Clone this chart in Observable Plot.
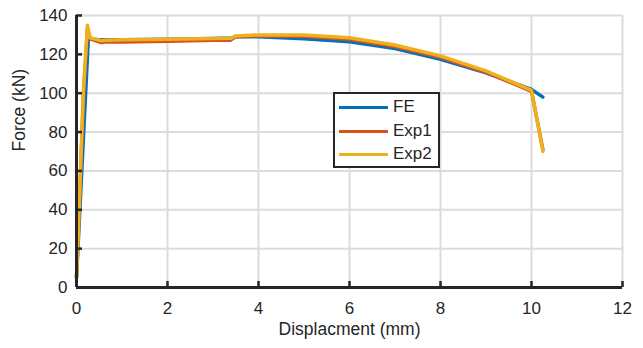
<!DOCTYPE html>
<html>
<head>
<meta charset="utf-8">
<script src="https://cdn.jsdelivr.net/npm/d3@7"></script>
<script src="https://cdn.jsdelivr.net/npm/@observablehq/plot@0.6"></script>
<style>
  body { margin: 0; background: #fff; }
  #wrap { position: relative; width: 643px; height: 348px; font-family: "Liberation Sans", Arial, sans-serif; }
  #legend { position: absolute; left: 333px; top: 92px; width: 103px; height: 72px; border: 2.5px solid #262626; background: #fff; }
  .item { position: absolute; left: 0; height: 20px; display: flex; align-items: center; font-size: 17px; color: #262626; }
  .item span.sw { display: inline-block; width: 49px; height: 3px; margin-left: 4px; margin-right: 5px; }
</style>
</head>
<body>
<div id="wrap"><div id="chart"></div><div id="legend"></div></div>
<script>
const seriesNames = ["FE", "Exp1", "Exp2"];
const seriesColors = ["#0072BD", "#D95319", "#EDB120"];

const feDisp  = [0, 0.26, 0.5, 1, 2, 3, 3.4, 3.5, 4, 5, 6, 7, 8, 9, 10, 10.25];
const feForce = [5, 128, 127.5, 127.5, 127.8, 128.2, 128.4, 129, 129, 128, 126.5, 123, 117.5, 110.5, 102, 98];

const exp1Disp  = [0, 0.04, 0.15, 0.24, 0.3, 0.55, 0.6, 1, 2, 3, 3.38, 3.5, 4, 5, 6, 7, 8, 9, 10, 10.25];
const exp1Force = [5, 28, 98, 133, 128, 126, 126.3, 126.3, 126.8, 127.2, 127.2, 129, 129.5, 129.3, 127.8, 124, 118.5, 110.8, 101, 71];

const exp2Disp  = [0, 0.04, 0.15, 0.24, 0.3, 0.55, 0.62, 1, 2, 3, 3.4, 3.5, 4, 5, 6, 7, 8, 9, 10, 10.25];
const exp2Force = [5, 29, 100, 135, 128.5, 127, 127.3, 127.5, 127.8, 128.2, 128.3, 129.5, 130, 130, 128.5, 124.8, 119.2, 111.5, 101.5, 70];

const xTicks = [0, 2, 4, 6, 8, 10, 12];
const yTicks = [0, 20, 40, 60, 80, 100, 120, 140];
const xLabel = "Displacment (mm)";
const yLabel = "Force (kN)";

const toRows = (xs, ys, name) => xs.map((x, i) => ({x, y: ys[i], name}));
const series = [
  toRows(feDisp, feForce, "FE"),
  toRows(exp1Disp, exp1Force, "Exp1"),
  toRows(exp2Disp, exp2Force, "Exp2")
];

const axisColor = "#262626";
const gridColor = "#dcdcdc";

const chart = Plot.plot({
  width: 643, height: 348,
  marginLeft: 76, marginRight: 21, marginTop: 15, marginBottom: 61,
  x: {domain: [0, 12]},
  y: {domain: [0, 140]},
  style: {fontFamily: "'Liberation Sans', Arial, sans-serif", fontSize: "16.5px", color: axisColor, background: "#fff"},
  marks: [
    Plot.gridX(xTicks.slice(1), {stroke: gridColor, strokeOpacity: 1, strokeWidth: 2}),
    Plot.gridY(yTicks.slice(1), {stroke: gridColor, strokeOpacity: 1, strokeWidth: 2}),
    ...series.map((rows, i) => Plot.line(rows, {x: "x", y: "y", stroke: seriesColors[i], strokeWidth: 3.5, strokeLinejoin: "round"})),
    Plot.ruleX([0], {stroke: axisColor, strokeWidth: 3}),
    Plot.ruleY([0], {stroke: axisColor, strokeWidth: 3}),
    Plot.tickX(xTicks, {x: d => d, insetTop: 266, stroke: axisColor, strokeWidth: 2.5}),
    Plot.tickY(yTicks, {y: d => d, insetRight: 540, stroke: axisColor, strokeWidth: 2.5}),
    Plot.axisX(xTicks, {tickSize: 0, tickPadding: 14, tickFormat: d => String(d), label: null, fontSize: 17}),
    Plot.axisY(yTicks, {tickSize: 0, tickPadding: 9, tickFormat: d => String(d), label: null, fontSize: 17}),
    Plot.text([xLabel], {frameAnchor: "bottom", dy: 47, fontSize: 17.5, fill: axisColor}),
    Plot.text([yLabel], {frameAnchor: "left", dx: -57, rotate: -90, fontSize: 17.5, fill: axisColor})
  ]
});
document.getElementById("chart").appendChild(chart);

const legend = document.getElementById("legend");
const itemTops = [3, 27, 50];
seriesNames.forEach((n, i) => {
  const d = document.createElement("div");
  d.className = "item";
  d.style.top = itemTops[i] + "px";
  d.innerHTML = `<span class="sw" style="background:${seriesColors[i]}"></span>${n}`;
  legend.appendChild(d);
});
</script>
</body>
</html>
